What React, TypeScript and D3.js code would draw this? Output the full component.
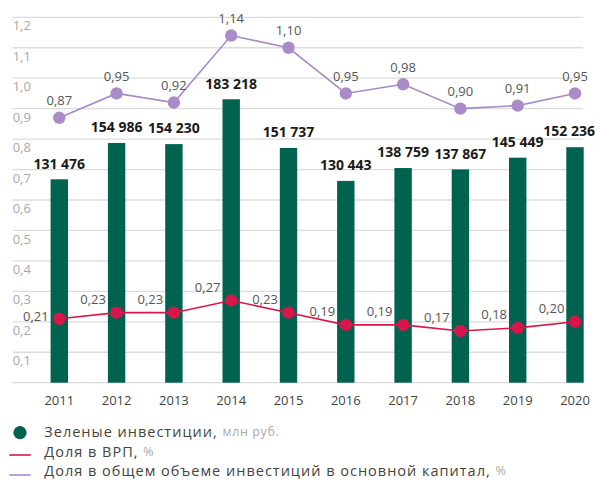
import React from "react";
import * as d3 from "d3";

const years = ["2011", "2012", "2013", "2014", "2015", "2016", "2017", "2018", "2019", "2020"];
const greenInvest = [131476, 154986, 154230, 183218, 151737, 130443, 138759, 137867, 145449, 152236];
const shareGRP = [0.21, 0.23, 0.23, 0.27, 0.23, 0.19, 0.19, 0.17, 0.18, 0.2];
const shareInvest = [0.87, 0.95, 0.92, 1.14, 1.1, 0.95, 0.98, 0.9, 0.91, 0.95];
const yTicks = [0.1, 0.2, 0.3, 0.4, 0.5, 0.6, 0.7, 0.8, 0.9, 1.0, 1.1, 1.2];

const W = 595;
const H = 483;
const FONT = "'Open Sans', 'Noto Sans', sans-serif";
const GREEN = "#00634f";
const RED = "#d9164b";
const PURPLE = "#a98bc8";

export default function App() {
  const x = d3.scalePoint<string>().domain(years).range([59.3, 575]);
  const y = d3.scaleLinear().domain([0, 1.2]).range([382.7, 17.3]);
  const yBar = d3.scaleLinear().domain([0, 236200]).range([382.7, 17.3]);
  const fmtP = (v: number) => d3.format(".2f")(v).replace(".", ",");
  const fmtT = (v: number) => d3.format(".1f")(v).replace(".", ",");
  const fmtBar = (v: number) => d3.format(",")(v).replace(/,/g, " ");
  const lineGen = d3
    .line<number>()
    .x((_, i) => x(years[i]) as number)
    .y((d) => y(d));
  const barW = 17.4;

  return (
    <svg width={W} height={H} style={{ position: "absolute", left: 0, top: 0, background: "#fff" }} fontFamily={FONT}>
      {/* grid */}
      {[0, ...yTicks].map((t) => (
        <line key={"g" + t} x1={12.7} x2={583} y1={y(t)} y2={y(t)} stroke="#dcdcdc" strokeWidth={1.3} />
      ))}
      {yTicks.map((t) => (
        <text key={"t" + t} x={12.7} y={y(t) + 9.6} fontSize={13} fill="#a8a8a8" dominantBaseline="middle">
          {fmtT(t)}
        </text>
      ))}
      {/* bars */}
      {greenInvest.map((v, i) => (
        <rect
          key={"b" + i}
          x={(x(years[i]) as number) - barW / 2}
          y={yBar(v)}
          width={barW}
          height={yBar(0) - yBar(v)}
          fill={GREEN}
        />
      ))}
      {greenInvest.map((v, i) => {
        const cx = x(years[i]) as number;
        const over = cx + 28 > W;
        return (
          <text
            key={"bl" + i}
            x={over ? W : cx}
            y={yBar(v) - 14.5}
            fontSize={14}
            fontWeight={700}
            fill="#1a1a1a"
            textAnchor={over ? "end" : "middle"}
            dominantBaseline="middle"
          >
            {fmtBar(v)}
          </text>
        );
      })}
      {/* purple line */}
      <path d={lineGen(shareInvest) || ""} fill="none" stroke={PURPLE} strokeWidth={1.6} />
      {shareInvest.map((v, i) => (
        <circle key={"pc" + i} cx={x(years[i])} cy={y(v)} r={6.2} fill={PURPLE} />
      ))}
      {shareInvest.map((v, i) => (
        <text
          key={"pl" + i}
          x={x(years[i])}
          y={y(v) - 16}
          fontSize={13}
          fill="#555"
          textAnchor="middle"
          dominantBaseline="middle"
        >
          {fmtP(v)}
        </text>
      ))}
      {/* red line */}
      <path d={lineGen(shareGRP) || ""} fill="none" stroke={RED} strokeWidth={1.6} />
      {shareGRP.map((v, i) => (
        <circle key={"rc" + i} cx={x(years[i])} cy={y(v)} r={6.2} fill={RED} />
      ))}
      {shareGRP.map((v, i) => (
        <text
          key={"rl" + i}
          x={(x(years[i]) as number) - 23.5}
          y={y(v) - (i === 0 ? 1 : 12)}
          fontSize={13}
          fill="#555"
          textAnchor="middle"
          dominantBaseline="middle"
        >
          {fmtP(v)}
        </text>
      ))}
      {/* x axis labels */}
      {years.map((yr) => (
        <text
          key={"x" + yr}
          x={x(yr)}
          y={401.5}
          fontSize={13}
          fill="#444"
          textAnchor="middle"
          dominantBaseline="middle"
        >
          {yr}
        </text>
      ))}
      {/* legend */}
      <circle cx={20} cy={432.7} r={6.6} fill={GREEN} />
      <text x={44.3} y={433} fontSize={14.5} fill="#444" letterSpacing={1} dominantBaseline="middle">
        Зеленые инвестиции,{" "}
        <tspan fontSize={12.5} fill="#aaa" letterSpacing={0.6}>
          млн руб.
        </tspan>
      </text>
      <line x1={9.3} x2={30.7} y1={455} y2={455} stroke={RED} strokeWidth={1.6} />
      <text x={44.3} y={453} fontSize={14.5} fill="#444" letterSpacing={1} dominantBaseline="middle">
        Доля в ВРП,{" "}
        <tspan fontSize={12.5} fill="#aaa">
          %
        </tspan>
      </text>
      <line x1={9.3} x2={30.7} y1={475} y2={475} stroke={PURPLE} strokeWidth={1.6} />
      <text x={44.3} y={472} fontSize={14.5} fill="#444" letterSpacing={1} dominantBaseline="middle">
        Доля в общем объеме инвестиций в основной капитал,{" "}
        <tspan fontSize={12.5} fill="#aaa">
          %
        </tspan>
      </text>
    </svg>
  );
}
